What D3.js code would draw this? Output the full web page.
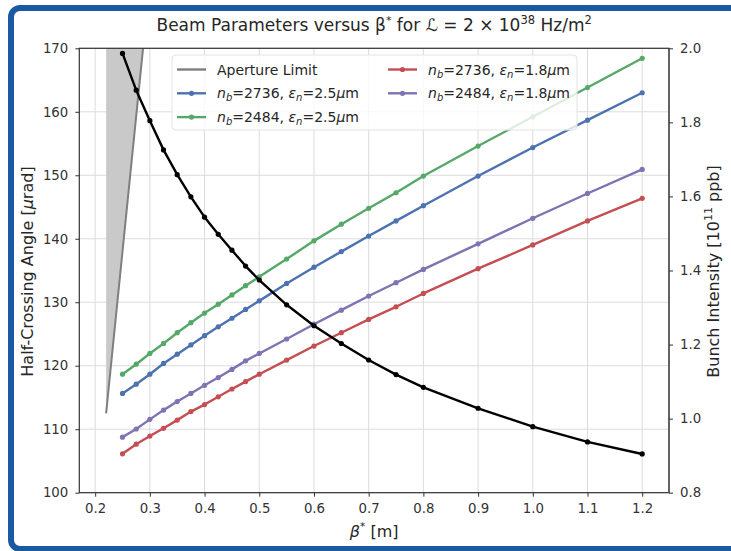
<!DOCTYPE html>
<html>
<head>
<meta charset="utf-8">
<script src="https://cdn.jsdelivr.net/npm/d3@7.9.0/dist/d3.min.js"></script>
<style>
  html, body { margin: 0; padding: 0; background: #fff; }
  svg { display: block; font-family: "DejaVu Sans", sans-serif; }
</style>
</head>
<body>
<svg id="chart" width="731" height="551"></svg>
<script>
// beta* values (m) shared by every series
const beta = [0.25, 0.275, 0.3, 0.325, 0.35, 0.375, 0.4, 0.425, 0.45, 0.475, 0.5,
  0.55, 0.6, 0.65, 0.7, 0.75, 0.8, 0.9, 1.0, 1.1, 1.2];
// half-crossing angle (urad), left axis
const angle = [169.2, 163.4, 158.6, 154.0, 150.1, 146.6, 143.4, 140.7, 138.2, 135.7, 133.5,
  129.6, 126.3, 123.5, 120.9, 118.6, 116.6, 113.3, 110.4, 108.0, 106.1];
// bunch intensity (1e11 ppb), right axis
const nb2736e25 = [1.068, 1.093, 1.120, 1.149, 1.174, 1.199, 1.224, 1.248, 1.271, 1.295, 1.318,
  1.365, 1.409, 1.451, 1.493, 1.534, 1.575, 1.655, 1.732, 1.806, 1.880];
const nb2484e25 = [1.120, 1.147, 1.176, 1.203, 1.232, 1.259, 1.285, 1.309, 1.334, 1.359, 1.383,
  1.431, 1.480, 1.525, 1.568, 1.610, 1.655, 1.736, 1.815, 1.894, 1.973];
const nb2736e18 = [0.905, 0.931, 0.953, 0.974, 0.996, 1.019, 1.038, 1.059, 1.080, 1.100, 1.120,
  1.158, 1.196, 1.232, 1.268, 1.302, 1.338, 1.405, 1.469, 1.534, 1.595];
const nb2484e18 = [0.950, 0.972, 0.998, 1.023, 1.046, 1.068, 1.090, 1.111, 1.133, 1.156, 1.176,
  1.215, 1.255, 1.293, 1.331, 1.367, 1.403, 1.472, 1.541, 1.608, 1.673];
// aperture limit line
const apertureBeta = [0.22, 0.30];
const apertureAngle = [112.5, 180.6];

const xTicks = [0.2, 0.3, 0.4, 0.5, 0.6, 0.7, 0.8, 0.9, 1.0, 1.1, 1.2];
const leftTicks = [100, 110, 120, 130, 140, 150, 160, 170];
const rightTicks = [0.8, 1.0, 1.2, 1.4, 1.6, 1.8, 2.0];

const svg = d3.select('#chart');
const plot = { left: 79.3, right: 669, top: 48.3, bottom: 492.7 };

let x = d3.scaleLinear().domain([0.171, 1.249]).range([plot.left, plot.right]);
let yL = d3.scaleLinear().domain([100, 170]).range([plot.bottom, plot.top]);
let yR = d3.scaleLinear().domain([0.8, 2.0]).range([plot.bottom, plot.top]);

// blue outer frame
svg.append('rect')
  .attr('x', 11).attr('y', 8).attr('width', 760).attr('height', 541)
  .attr('rx', 9)
  .attr('fill', '#fff').attr('stroke', '#1b5aa3').attr('stroke-width', 6);

svg.append('clipPath').attr('id', 'clip')
  .append('rect')
  .attr('x', plot.left).attr('y', plot.top)
  .attr('width', plot.right - plot.left).attr('height', plot.bottom - plot.top);

// grid
const grid = svg.append('g');
xTicks.forEach((t) => {
  grid.append('line')
    .attr('x1', x(t)).attr('x2', x(t)).attr('y1', plot.top).attr('y2', plot.bottom)
    .attr('stroke', '#dcdcdc').attr('stroke-width', 1);
});
leftTicks.forEach((t) => {
  grid.append('line')
    .attr('x1', plot.left).attr('x2', plot.right).attr('y1', yL(t)).attr('y2', yL(t))
    .attr('stroke', '#dcdcdc').attr('stroke-width', 1);
});

const g = svg.append('g').attr('clip-path', 'url(#clip)');

// shaded region left of the aperture limit
let apData = apertureBeta.map((b, i) => ({ b, a: apertureAngle[i] }));
g.append('path')
  .datum(apData)
  .attr('d', d3.area().y((d) => yL(d.a)).x0(x(apertureBeta[0])).x1((d) => x(d.b)))
  .attr('fill', '#c9c9c9');
g.append('path')
  .datum(apData)
  .attr('d', d3.line().x((d) => x(d.b)).y((d) => yL(d.a)))
  .attr('fill', 'none').attr('stroke', '#7f7f7f').attr('stroke-width', 2);

const series = [
  { values: nb2736e25, color: '#4c72b0' },
  { values: nb2484e25, color: '#55a868' },
  { values: nb2736e18, color: '#c44e52' },
  { values: nb2484e18, color: '#8172b2' },
];

function drawSeries(values, yScale, color) {
  let pts = beta.map((b, i) => [x(b), yScale(values[i])]);
  g.append('path')
    .attr('d', d3.line()(pts))
    .attr('fill', 'none').attr('stroke', color).attr('stroke-width', 2.4)
    .attr('stroke-linejoin', 'round');
  pts.forEach((p) => {
    g.append('circle').attr('cx', p[0]).attr('cy', p[1]).attr('r', 2.6).attr('fill', color);
  });
}

series.forEach((s) => drawSeries(s.values, yR, s.color));
drawSeries(angle, yL, '#000');

// frame
svg.append('rect')
  .attr('x', plot.left).attr('y', plot.top)
  .attr('width', plot.right - plot.left).attr('height', plot.bottom - plot.top)
  .attr('fill', 'none').attr('stroke', '#333').attr('stroke-width', 1.2);
svg.append('line')
  .attr('x1', plot.right).attr('x2', plot.right).attr('y1', plot.top).attr('y2', plot.bottom)
  .attr('stroke', '#555').attr('stroke-width', 1.4);

// axes
function styleAxis(sel) {
  sel.select('.domain').remove();
  sel.selectAll('.tick line').attr('stroke', '#333');
  sel.selectAll('.tick text')
    .attr('fill', '#333')
    .attr('font-size', '13.3px')
    .attr('font-family', '"DejaVu Sans", sans-serif');
}
svg.append('g')
  .attr('transform', `translate(0,${plot.bottom})`)
  .call(d3.axisBottom(x).tickValues(xTicks).tickFormat(d3.format('.1f')).tickSize(4).tickPadding(7))
  .call(styleAxis);
svg.append('g')
  .attr('transform', `translate(${plot.left},0)`)
  .call(d3.axisLeft(yL).tickValues(leftTicks).tickSize(4).tickPadding(7))
  .call(styleAxis);
svg.append('g')
  .attr('transform', `translate(${plot.right},0)`)
  .call(d3.axisRight(yR).tickValues(rightTicks).tickFormat(d3.format('.1f')).tickSize(4).tickPadding(7))
  .call(styleAxis);

// title
let title = svg.append('text')
  .attr('x', (plot.left + plot.right) / 2).attr('y', 31)
  .attr('text-anchor', 'middle').attr('font-size', '17px').attr('fill', '#262626');
title.append('tspan').text('Beam Parameters versus β');
title.append('tspan').attr('dy', -7).attr('font-size', '11px').text('*');
title.append('tspan').attr('dy', 7).text(' for ');
title.append('tspan').attr('font-style', 'italic').text('ℒ');
title.append('tspan').text(' = 2 × 10');
title.append('tspan').attr('dy', -7).attr('font-size', '11.5px').text('38');
title.append('tspan').attr('dy', 7).text(' Hz/m');
title.append('tspan').attr('dy', -7).attr('font-size', '11.5px').text('2');

// x label
let xl = svg.append('text')
  .attr('x', (plot.left + plot.right) / 2).attr('y', 537)
  .attr('text-anchor', 'middle').attr('font-size', '16px').attr('fill', '#262626');
xl.append('tspan').attr('font-style', 'italic').text('β');
xl.append('tspan').attr('dy', -7).attr('font-size', '10.5px').text('*');
xl.append('tspan').attr('dy', 7).text(' [m]');

// left y label
let ylab = svg.append('text')
  .attr('transform', `translate(33,${(plot.top + plot.bottom) / 2 + 1}) rotate(-90)`)
  .attr('text-anchor', 'middle').attr('font-size', '16px').attr('fill', '#262626');
ylab.append('tspan').text('Half-Crossing Angle [');
ylab.append('tspan').attr('font-style', 'italic').text('μ');
ylab.append('tspan').text('rad]');

// right y label
let yr = svg.append('text')
  .attr('transform', `translate(719,${(plot.top + plot.bottom) / 2 + 1}) rotate(-90)`)
  .attr('text-anchor', 'middle').attr('font-size', '16px').attr('fill', '#262626');
yr.append('tspan').text('Bunch Intensity [10');
yr.append('tspan').attr('dy', -7).attr('font-size', '11px').text('11');
yr.append('tspan').attr('dy', 7).text(' ppb]');

// legend
const legendItems = [
  { text: 'Aperture Limit', color: '#7f7f7f', marker: false, col: 0, row: 0 },
  { nb: '2736', eps: '2.5', color: '#4c72b0', marker: true, col: 0, row: 1 },
  { nb: '2484', eps: '2.5', color: '#55a868', marker: true, col: 0, row: 2 },
  { nb: '2736', eps: '1.8', color: '#c44e52', marker: true, col: 1, row: 0 },
  { nb: '2484', eps: '1.8', color: '#8172b2', marker: true, col: 1, row: 1 },
];
const legend = svg.append('g');
legend.append('rect')
  .attr('x', 172).attr('y', 55).attr('width', 405).attr('height', 75).attr('rx', 4)
  .attr('fill', '#fff').attr('fill-opacity', 0.8)
  .attr('stroke', '#e3e3e3').attr('stroke-width', 1);
const colX = [177, 388];
legendItems.forEach((d) => {
  let lx = colX[d.col];
  let ly = 69.5 + d.row * 23.8;
  legend.append('line')
    .attr('x1', lx).attr('x2', lx + 29).attr('y1', ly).attr('y2', ly)
    .attr('stroke', d.color).attr('stroke-width', 2.4);
  if (d.marker) {
    legend.append('circle').attr('cx', lx + 14.5).attr('cy', ly).attr('r', 2.6).attr('fill', d.color);
  }
  let t = legend.append('text')
    .attr('x', lx + 40).attr('y', ly + 5)
    .attr('font-size', '14px').attr('fill', '#262626');
  if (d.text) {
    t.text(d.text);
  } else {
    t.append('tspan').attr('font-style', 'italic').text('n');
    t.append('tspan').attr('font-style', 'italic').attr('font-size', '10px').attr('dy', 3).text('b');
    t.append('tspan').attr('dy', -3).text(`=${d.nb}, `);
    t.append('tspan').attr('font-style', 'italic').text('ε');
    t.append('tspan').attr('font-style', 'italic').attr('font-size', '10px').attr('dy', 3).text('n');
    t.append('tspan').attr('dy', -3).text(`=${d.eps}`);
    t.append('tspan').attr('font-style', 'italic').text('μ');
    t.append('tspan').text('m');
  }
});
</script>
</body>
</html>
